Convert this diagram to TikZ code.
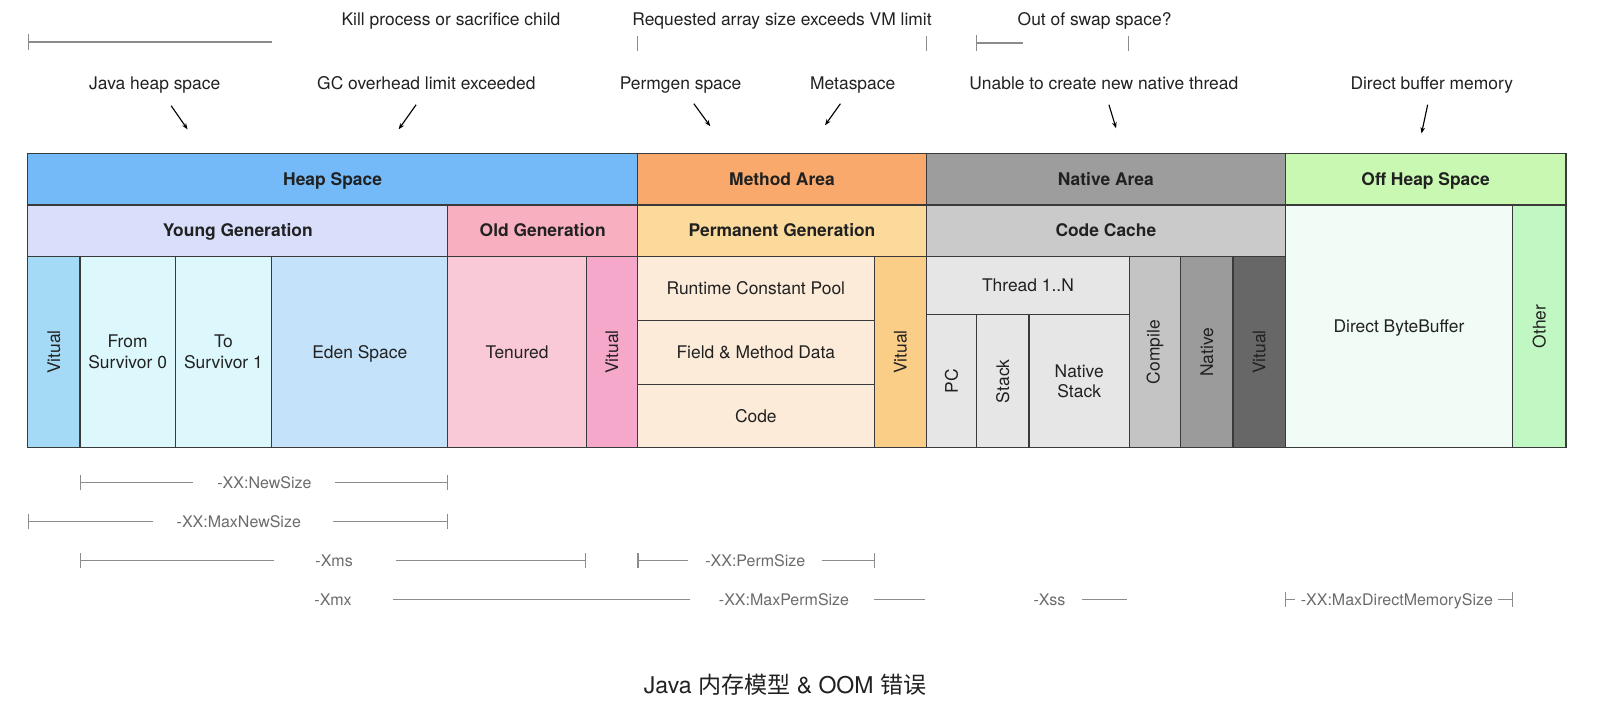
\documentclass[tikz,border=0pt]{standalone}
\usepackage{fontspec}
\setmainfont{TeX Gyre Heros}
\newfontfamily\cjk{Noto Sans CJK SC}
\usetikzlibrary{arrows.meta}
\definecolor{cellline}{HTML}{3A3A3A}
\definecolor{heapblue}{HTML}{74BAF9}
\definecolor{younghead}{HTML}{D9DEFA}
\definecolor{oldhead}{HTML}{F8B0C0}
\definecolor{youngvirt}{HTML}{A5DAF7}
\definecolor{survivor}{HTML}{DCF8FC}
\definecolor{eden}{HTML}{C4E2F9}
\definecolor{tenured}{HTML}{FAC9D7}
\definecolor{oldvirt}{HTML}{F6A8CA}
\definecolor{methodhead}{HTML}{F8A96B}
\definecolor{permhead}{HTML}{FBDA9C}
\definecolor{permcell}{HTML}{FCEBD9}
\definecolor{permvirt}{HTML}{FBCE88}
\definecolor{nativehead}{HTML}{9D9D9D}
\definecolor{codecache}{HTML}{CACACA}
\definecolor{threadcell}{HTML}{E6E6E6}
\definecolor{compilecell}{HTML}{C4C4C4}
\definecolor{nativecell}{HTML}{9B9B9B}
\definecolor{nativevirt}{HTML}{676767}
\definecolor{offhead}{HTML}{C8F8B2}
\definecolor{directcell}{HTML}{F1FCF6}
\definecolor{othercell}{HTML}{C0F7C2}
\begin{document}
\begin{tikzpicture}[x=1pt,y=-1pt,
    cell/.style={draw=cellline,line width=1.2pt,inner sep=0pt,outer sep=0pt,align=center,text=black!87,font=\fontsize{17}{20}\selectfont},
    one/.style={cell,text height=12pt,text depth=0pt},
    head/.style={one,font=\fontsize{17}{20}\selectfont\bfseries},
    vert/.style={cell,rotate=90},
    err/.style={inner sep=0pt,anchor=base,text height=12pt,text depth=4pt,text=black!87,font=\fontsize{17}{20}\selectfont},
    opt/.style={inner sep=0pt,anchor=base,text=black!58,font=\fontsize{15.6}{18}\selectfont},
    dim/.style={draw=black!45,line width=1.1pt},
    dimbar/.tip={Bar[width=15pt]},
    >={Stealth[length=6pt,width=4.5pt]}]
    \useasboundingbox (0,0) rectangle (1567,687);

    % top row
    \node[head,fill=heapblue,minimum width=595,minimum height=50] (heap) at (324.5,175) {Heap Space};
    \node[head,fill=methodhead,minimum width=282,minimum height=50] (method) at (763,175) {Method Area};
    \node[head,fill=nativehead,minimum width=350,minimum height=50] (native) at (1079,175) {Native Area};
    \node[head,fill=offhead,minimum width=274,minimum height=50] (offheap) at (1391,175) {Off Heap Space};

    % second row
    \node[head,fill=younghead,minimum width=410,minimum height=50] (young) at (232,225) {Young Generation};
    \node[head,fill=oldhead,minimum width=185,minimum height=50] (old) at (529.5,225) {Old Generation};
    \node[head,fill=permhead,minimum width=282,minimum height=50] (perm) at (763,225) {Permanent Generation};
    \node[head,fill=codecache,minimum width=350,minimum height=50] (codecache) at (1079,225) {Code Cache};
    \node[one,fill=directcell,minimum width=222,minimum height=237] (direct) at (1365,318.5) {Direct ByteBuffer};
    \node[vert,fill=othercell,minimum width=237,minimum height=52] (other) at (1502,318.5) {Other};

    % heap cells
    \node[vert,fill=youngvirt,minimum width=187,minimum height=51] (yvirt) at (52.5,343.5) {Vitual};
    \node[cell,fill=survivor,minimum width=93,minimum height=187] (from) at (124.5,343.5) {From\\Survivor 0};
    \node[cell,fill=survivor,minimum width=94,minimum height=187] (to) at (218,343.5) {To\\Survivor 1};
    \node[one,fill=eden,minimum width=172,minimum height=187] (eden) at (351,343.5) {Eden Space};
    \node[one,fill=tenured,minimum width=135,minimum height=187] (tenured) at (504.5,343.5) {Tenured};
    \node[vert,fill=oldvirt,minimum width=187,minimum height=50] (ovirt) at (597,343.5) {Vitual};

    % method area cells
    \node[one,fill=permcell,minimum width=231,minimum height=63] (rcp) at (737.5,281.5) {Runtime Constant Pool};
    \node[one,fill=permcell,minimum width=231,minimum height=62] (fmd) at (737.5,344) {Field \& Method Data};
    \node[one,fill=permcell,minimum width=231,minimum height=62] (code) at (737.5,406) {Code};
    \node[vert,fill=permvirt,minimum width=187,minimum height=51] (pvirt) at (878.5,343.5) {Vitual};

    % native area cells
    \node[one,fill=threadcell,minimum width=198,minimum height=57] (thread) at (1003,278.5) {Thread 1..N};
    \node[vert,fill=threadcell,minimum width=130,minimum height=49] (pc) at (928.5,372) {PC};
    \node[vert,fill=threadcell,minimum width=130,minimum height=51] (stack) at (978.5,372) {Stack};
    \node[cell,fill=threadcell,minimum width=98,minimum height=130] (nstack) at (1053,372) {Native\\Stack};
    \node[vert,fill=compilecell,minimum width=187,minimum height=50] (compile) at (1127,343.5) {Compile};
    \node[vert,fill=nativecell,minimum width=187,minimum height=51] (nat) at (1177.5,343.5) {Native};
    \node[vert,fill=nativevirt,minimum width=187,minimum height=51] (nvirt) at (1228.5,343.5) {Vitual};

    % errors
    \node[err] (kill) at (440,25) {Kill process or sacrifice child};
    \node[err] (reqarr) at (763,25) {Requested array size exceeds VM limit};
    \node[err] (swap) at (1068,25) {Out of swap space?};
    \draw[dim,dimbar-] (27,41) -- (265,41);
    \draw[dim] (622,35) -- (622,50);
    \draw[dim] (904,35) -- (904,50);
    \draw[dim,dimbar-] (952,42) -- (998,42);
    \draw[dim] (1101,35) -- (1101,50);

    \node[err] (jhs) at (151,87) {Java heap space};
    \node[err] (gcol) at (416,87) {GC overhead limit exceeded};
    \node[err] (permgen) at (664,87) {Permgen space};
    \node[err] (metasp) at (832,87) {Metaspace};
    \node[err] (natthr) at (1077,87) {Unable to create new native thread};
    \node[err] (dbm) at (1397,87) {Direct buffer memory};
    \draw[->,line width=1.1pt] (jhs.south) ++(16,12) -- ++(16,23);
    \draw[->,line width=1.1pt] (gcol.south) ++(-10,11) -- ++(-17,24);
    \draw[->,line width=1.1pt] (permgen.south) ++(13,10) -- ++(16,22);
    \draw[->,line width=1.1pt] (metasp.south) ++(-12,10) -- ++(-15,21);
    \draw[->,line width=1.1pt] (natthr.south) ++(5,11) -- ++(7,23);
    \draw[->,line width=1.1pt] (dbm.south) ++(-4,11) -- ++(-6,28);

    % options
    \node[opt] (newsize) at (258,476.5) {-XX:NewSize};
    \draw[dim,dimbar-] (78,471) -- (188,471);
    \draw[dim,-dimbar] (327,471) -- (437,471);
    \node[opt] (maxnewsize) at (233,514.5) {-XX:MaxNewSize};
    \draw[dim,dimbar-] (27,509) -- (149,509);
    \draw[dim,-dimbar] (325,509) -- (437,509);
    \node[opt] (xms) at (326,552.5) {-Xms};
    \draw[dim,dimbar-] (78,547) -- (267,547);
    \draw[dim,-dimbar] (386,547) -- (572,547);
    \node[opt] (permsize) at (737,552.5) {-XX:PermSize};
    \draw[dim,dimbar-] (622,547) -- (671,547);
    \draw[dim,-dimbar] (802,547) -- (854,547);
    \node[opt] (xmx) at (325,590.5) {-Xmx};
    \draw[dim] (383,585) -- (673,585);
    \node[opt] (maxpermsize) at (765,590.5) {-XX:MaxPermSize};
    \draw[dim] (853,585) -- (903,585);
    \node[opt] (xss) at (1024,590.5) {-Xss};
    \draw[dim] (1056,585) -- (1100,585);
    \node[opt] (maxdirect) at (1363,590.5) {-XX:MaxDirectMemorySize};
    \draw[dim,dimbar-] (1254,585) -- (1264,585);
    \draw[dim,-dimbar] (1462,585) -- (1476,585);

    \node[inner sep=0pt,anchor=base,text=black!87,font=\fontsize{22.5}{26}\selectfont] (title) at (766,677) {Java {\cjk 内存模型} \& OOM {\cjk 错误}};
\end{tikzpicture}
\end{document}
